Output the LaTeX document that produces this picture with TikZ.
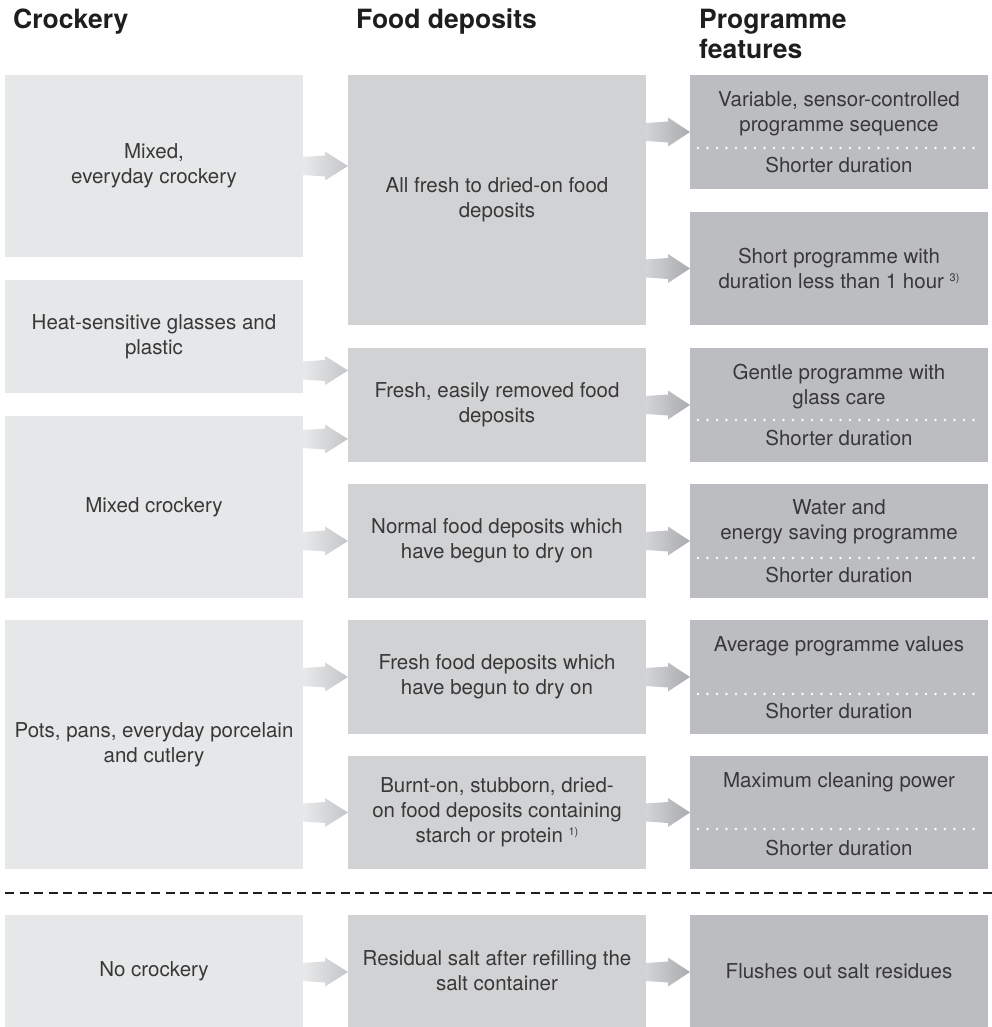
\documentclass[tikz,border=0pt]{standalone}
\usepackage{fontspec}
\setmainfont{TeX Gyre Heros}
\definecolor{cA}{HTML}{E6E7E8}
\definecolor{cB}{HTML}{D1D2D4}
\definecolor{cC}{HTML}{BCBDC0}
\definecolor{txt}{HTML}{383838}
\definecolor{head}{HTML}{1E1E1E}
\definecolor{aAl}{HTML}{E8E9EA}
\definecolor{aAr}{HTML}{C4C5C7}
\definecolor{aBl}{HTML}{D3D4D6}
\definecolor{aBr}{HTML}{A9AAAD}
\tikzset{
  boxbase/.style={anchor=north west, inner sep=0pt, outer sep=0pt, draw=none,
    minimum width=298pt, text=txt, align=center,
    font=\fontsize{20.5}{25}\selectfont},
  boxA/.style={boxbase, fill=cA},
  boxB/.style={boxbase, fill=cB},
  boxC/.style={boxbase, fill=cC},
  lbl/.style={inner sep=0pt, text=txt, align=center, font=\fontsize{20.5}{25}\selectfont},
  hdr/.style={anchor=north west, inner sep=0pt, text=head, align=left,
    font=\fontsize{26.5}{30}\selectfont\bfseries},
  sepdots/.style={draw=white, line width=2.6pt, line cap=round, dash pattern=on 0pt off 9.5pt},
  divider/.style={draw=head, line width=2pt, dash pattern=on 9pt off 5.6pt},
  arrA/.style={left color=aAl, right color=aAr, draw=none},
  arrB/.style={left color=aBl, right color=aBr, draw=none},
}
\newcommand\garrow[4]{%
  \coordinate (gs) at (#1.east |- 0,#3);
  \coordinate (gt) at (#2.west |- 0,#3);
  \path[#4] ([yshift=9pt]gs) -- ([xshift=22pt,yshift=10.5pt]gs)
    -- ([xshift=22pt,yshift=14.5pt]gs) -- (gt)
    -- ([xshift=22pt,yshift=-14.5pt]gs) -- ([xshift=22pt,yshift=-10.5pt]gs)
    -- ([yshift=-9pt]gs) -- cycle;
}
\newcommand\fnote[1]{\raisebox{7pt}{\fontsize{11}{11}\selectfont #1}}
\begin{document}
\begin{tikzpicture}[x=1pt, y=-1pt]
\useasboundingbox (0,0) rectangle (992,1027);

% headers
\node[hdr] (h1) at (13,9) {Crockery};
\node[hdr] (h2) at (356,9) {Food deposits};
\node[hdr] (h3) at (699,9) {Programme\\features};

% column 1
\node[boxA, minimum height=182pt] (mixA) at (5,75) {Mixed,\\everyday crockery};
\node[boxA, minimum height=113pt] (heat) at (5,280) {Heat-sensitive glasses and\\plastic};
\node[boxA, minimum height=182pt] (mixC) at (5,416) {Mixed crockery};
\node[boxA, minimum height=249pt] (pots) at (5,620) {Pots, pans, everyday porcelain\\and cutlery};
\node[boxA, minimum height=112pt] (noc) at (5,915) {No crockery};

% column 2
\node[boxB, minimum height=250pt] (allF) at (348,75) {All fresh to dried-on food\\deposits};
\node[boxB, minimum height=114pt] (freshE) at (348,348) {Fresh, easily removed food\\deposits};
\node[boxB, minimum height=114pt] (normal) at (348,484) {Normal food deposits which\\have begun to dry on};
\node[boxB, minimum height=114pt] (freshF) at (348,620) {Fresh food deposits which\\have begun to dry on};
\node[boxB, minimum height=113pt] (burnt) at (348,756) {Burnt-on, stubborn, dried-\\on food deposits containing\\starch or protein \fnote{1)}};
\node[boxB, minimum height=112pt] (resid) at (348,915) {Residual salt after refilling the\\salt container};

% column 3
\node[boxC, minimum height=114pt] (var) at (690,75) {};
\node[boxC, minimum height=113pt] (shortP) at (690,212) {Short programme with\\duration less than 1 hour \fnote{3)}};
\node[boxC, minimum height=114pt] (gentle) at (690,348) {};
\node[boxC, minimum height=114pt] (water) at (690,484) {};
\node[boxC, minimum height=114pt] (avg) at (690,620) {};
\node[boxC, minimum height=113pt] (maxc) at (690,756) {};
\node[boxC, minimum height=112pt] (flush) at (690,915) {Flushes out salt residues};

% column 3 texts
\node[lbl] (varT) at (839,114) {Variable, sensor-controlled\\programme sequence};
\node[lbl, anchor=base] (varS) at (839,172) {Shorter duration};
\node[lbl] (genT) at (839,387) {Gentle programme with\\glass care};
\node[lbl, anchor=base] (genS) at (839,445) {Shorter duration};
\node[lbl] (watT) at (839,522) {Water and\\energy saving programme};
\node[lbl, anchor=base] (watS) at (839,582) {Shorter duration};
\node[lbl, anchor=base] (avgT) at (839,651) {Average programme values};
\node[lbl, anchor=base] (avgS) at (839,718) {Shorter duration};
\node[lbl, anchor=base] (maxT) at (839,787) {Maximum cleaning power};
\node[lbl, anchor=base] (maxS) at (839,855) {Shorter duration};

% dotted separators
\draw[sepdots] (698,148) -- (982,148);
\draw[sepdots] (698,420) -- (982,420);
\draw[sepdots] (698,558) -- (982,558);
\draw[sepdots] (698,694) -- (982,694);
\draw[sepdots] (698,829) -- (982,829);

% dashed divider
\draw[divider] (5,893) -- (992,893);

% arrows
\garrow{mixA}{allF}{166}{arrA}
\garrow{heat}{freshE}{370.5}{arrA}
\garrow{mixC}{freshE}{439}{arrA}
\garrow{mixC}{normal}{541}{arrA}
\garrow{pots}{freshF}{677}{arrA}
\garrow{pots}{burnt}{812.5}{arrA}
\garrow{noc}{resid}{972}{arrA}
\garrow{allF}{var}{132}{arrB}
\garrow{allF}{shortP}{268.5}{arrB}
\garrow{freshE}{gentle}{405}{arrB}
\garrow{normal}{water}{541}{arrB}
\garrow{freshF}{avg}{677}{arrB}
\garrow{burnt}{maxc}{812.5}{arrB}
\garrow{resid}{flush}{972}{arrB}
\end{tikzpicture}
\end{document}
